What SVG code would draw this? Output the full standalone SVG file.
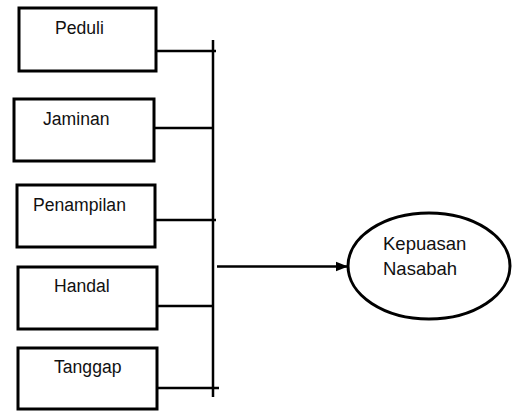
<svg xmlns="http://www.w3.org/2000/svg" width="512" height="412" viewBox="0 0 512 412">
<style>
.box{fill:#fff;stroke:#000;stroke-width:3}
.t{font-family:"Liberation Sans",Arial,sans-serif;font-size:17.6px;fill:#111}
.e{font-size:18.5px}
.c{stroke:#000;stroke-width:2.5;fill:none}
</style>
<defs>
<marker id="ah" viewBox="0 0 10 10" refX="10" refY="5" markerWidth="5" markerHeight="5" markerUnits="strokeWidth" orient="auto">
<path d="M0,1 L10,5 L0,9 Z" fill="#000"/>
</marker>
</defs>
<rect width="512" height="412" fill="#fff"/>
<g id="connectors">
<line class="c" x1="213" y1="40" x2="213" y2="397"/>
<line class="c" x1="156" y1="51" x2="216" y2="51"/>
<line class="c" x1="154" y1="128" x2="213" y2="128"/>
<line class="c" x1="155" y1="220" x2="216" y2="220"/>
<line class="c" x1="156" y1="306" x2="213" y2="306"/>
<line class="c" x1="157" y1="388" x2="219" y2="388"/>
<line class="c" x1="217" y1="266.5" x2="348" y2="266.5" marker-end="url(#ah)"/>
</g>
<g id="peduli"><rect class="box" x="19" y="8" width="137" height="63"/><text class="t" x="55" y="34">Peduli</text></g>
<g id="jaminan"><rect class="box" x="14" y="99" width="140" height="62"/><text class="t" x="43" y="125">Jaminan</text></g>
<g id="penampilan"><rect class="box" x="17" y="185" width="138" height="62"/><text class="t" x="33" y="211">Penampilan</text></g>
<g id="handal"><rect class="box" x="18" y="267" width="139" height="62"/><text class="t" x="54" y="292">Handal</text></g>
<g id="tanggap"><rect class="box" x="18" y="348" width="139" height="61"/><text class="t" x="54" y="373">Tanggap</text></g>
<g id="kepuasan"><ellipse cx="429" cy="266" rx="81" ry="53" fill="#fff" stroke="#000" stroke-width="3"/><text class="t e" x="383" y="250">Kepuasan</text><text class="t e" x="383" y="275">Nasabah</text></g>
</svg>
